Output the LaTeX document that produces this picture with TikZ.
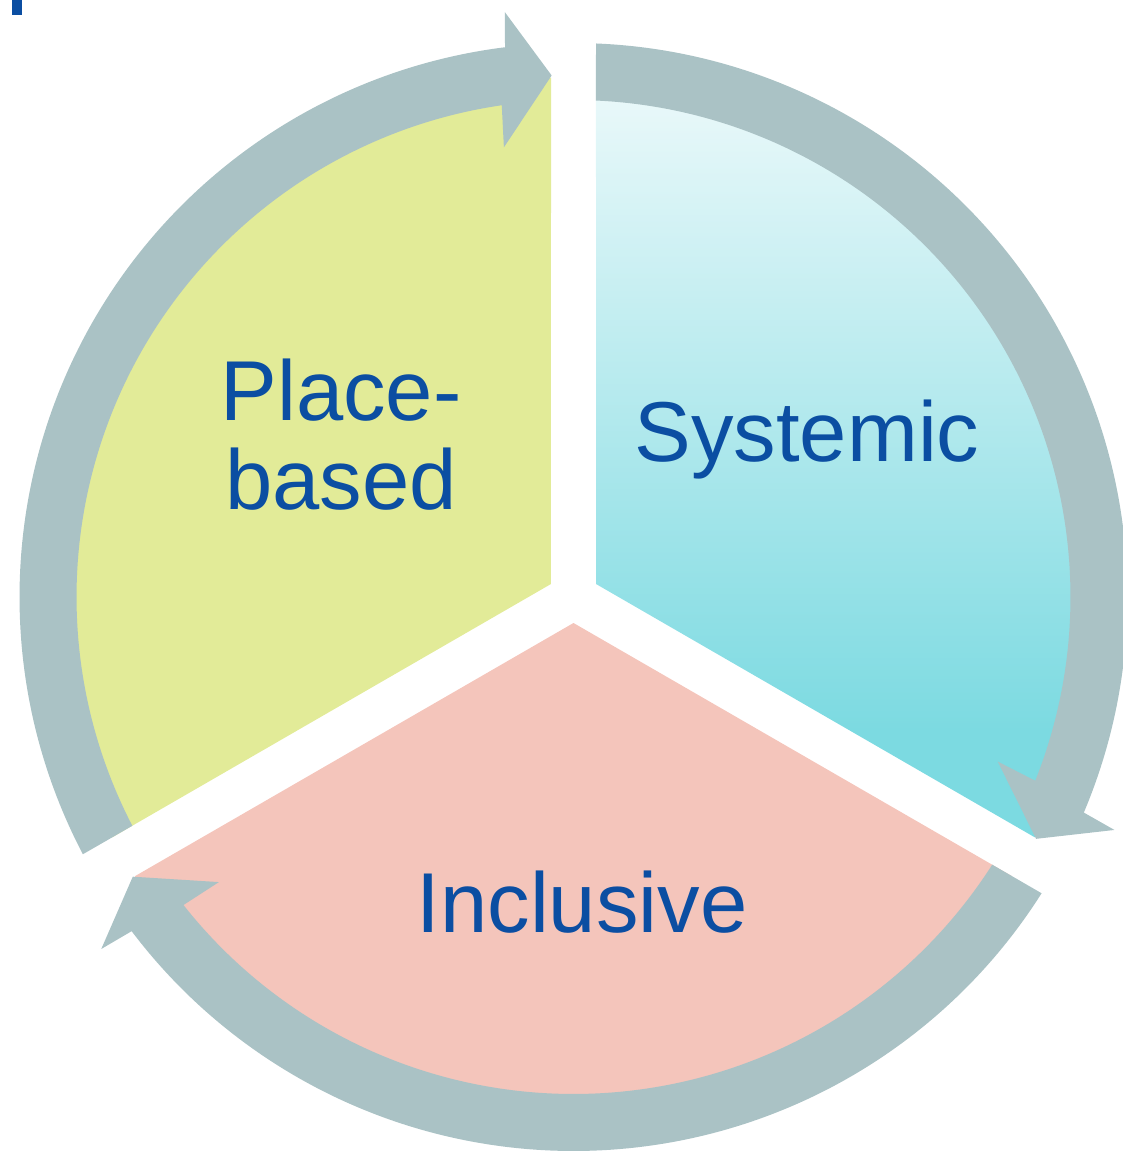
\documentclass[tikz,border=0pt]{standalone}
\usepackage{fontspec}
\setmainfont{Liberation Sans}
\usepackage{xcolor}
\definecolor{Ring}{RGB}{170, 194, 197}
\definecolor{PlaceFill}{RGB}{226, 235, 152}
\definecolor{InclFill}{RGB}{244, 197, 187}
\definecolor{SysLight}{RGB}{236, 249, 250}
\definecolor{SysDark}{RGB}{124, 218, 225}
\definecolor{Label}{RGB}{11, 78, 162}
\pgfdeclareverticalshading{sysfade}{100bp}{color(0bp)=(SysDark); color(32bp)=(SysDark); color(75bp)=(SysLight); color(100bp)=(SysLight)}

\begin{document}
\begin{tikzpicture}[x=1pt, y=1pt,
        ringarrow/.style={fill=Ring},
        segtext/.style={text=Label, font=\fontsize{85}{89}\selectfont, align=center, inner sep=0pt}]
            \useasboundingbox (-573.5,-556) rectangle (548.5,597);
            \fill[Label] (-561.5,582) rectangle (-551.5,597);

            % three segments
            \fill[PlaceFill] (150:26) -- (92.48:520) arc[start angle=92.48, end angle=207.52, radius=520] -- cycle;
            \shade[shading=sysfade] (30:26) -- (-27.52:520) arc[start angle=-27.52, end angle=87.52, radius=520] -- cycle;
            \fill[InclFill] (270:26) -- (212.48:520) arc[start angle=212.48, end angle=327.52, radius=520] -- cycle;

            % ring arrows
            \fill[ringarrow] (207.67:554) arc[start angle=207.67, end angle=97.1, radius=554] -- (96.7:589) -- (92.4:522) -- (98.8:455) -- (98.3:497) arc[start angle=98.3, end angle=207.41, radius=497] -- cycle;
            \fill[ringarrow] (87.67:554) arc[start angle=87.67, end angle=-22.9, radius=554] -- (-23.3:589) -- (-27.6:522) -- (-21.2:455) -- (-21.7:497) arc[start angle=-21.7, end angle=87.41, radius=497] -- cycle;
            \fill[ringarrow] (-32.33:554) arc[start angle=-32.33, end angle=-142.9, radius=554] -- (-143.3:589) -- (-147.6:522) -- (-141.2:455) -- (-141.7:497) arc[start angle=-141.7, end angle=-32.59, radius=497] -- cycle;

            \node[segtext] (place) at (-232.5, 162) {Place-\\based};
            \node[segtext, anchor=base] (systemic) at (233.5, 135) {Systemic};
            \node[segtext, anchor=base] (inclusive) at (8.5, -335) {Inclusive};
        \end{tikzpicture}
\end{document}
